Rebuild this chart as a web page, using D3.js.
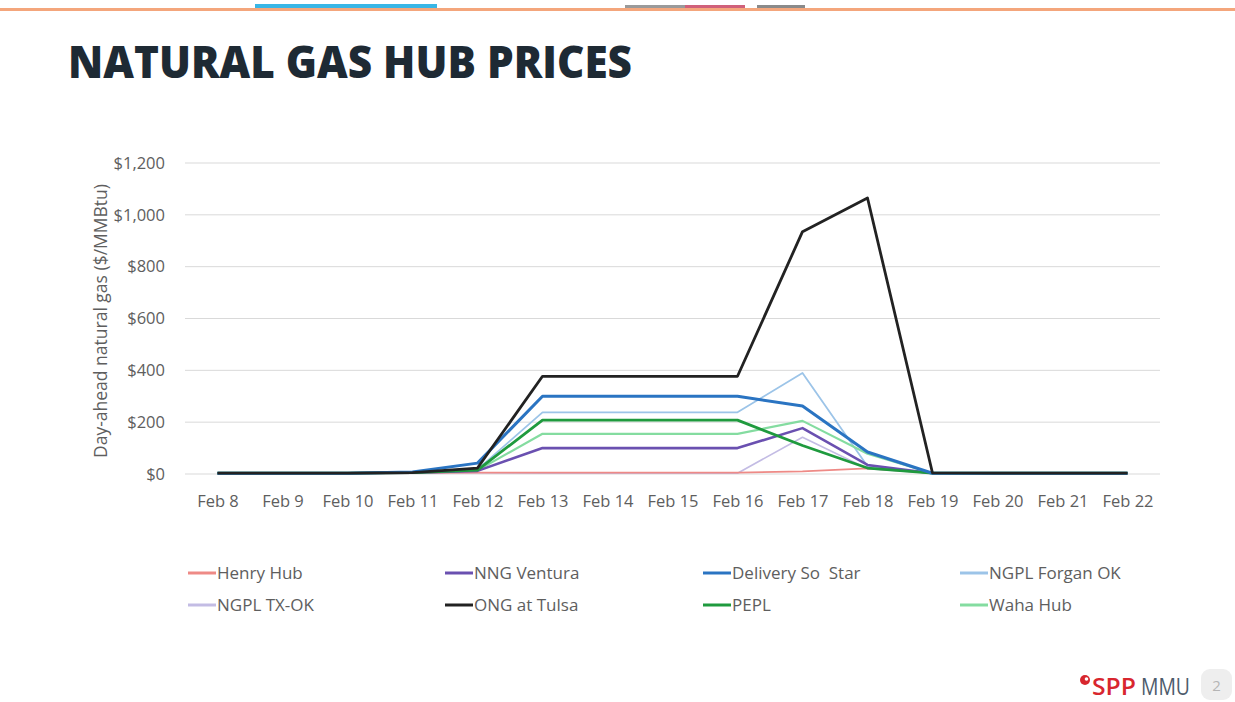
<!DOCTYPE html>
<html>
<head>
<meta charset="utf-8">
<script src="https://cdn.jsdelivr.net/npm/d3@7"></script>
<style>
  body { margin: 0; background: #fff; }
  text { font-family: "Open Sans", "Noto Sans", sans-serif; }
</style>
</head>
<body>
<div id="chart"></div>
<script>
// dates on the x axis
var days = ["Feb 8", "Feb 9", "Feb 10", "Feb 11", "Feb 12", "Feb 13", "Feb 14", "Feb 15",
            "Feb 16", "Feb 17", "Feb 18", "Feb 19", "Feb 20", "Feb 21", "Feb 22"];

// day-ahead prices, $/MMBtu
var henryHub       = [3, 3, 3, 4, 5, 5, 5, 5, 5, 10, 22, 4, 3, 3, 3];
var nngVentura     = [3, 3, 3, 5, 12, 100, 100, 100, 100, 177, 35, 3, 3, 3, 3];
var deliverySoStar = [3, 3, 3, 8, 42, 300, 300, 300, 300, 262, 85, 3, 3, 3, 3];
var ngplForgan     = [3, 3, 3, 5, 18, 238, 238, 238, 238, 390, 30, 3, 3, 3, 3];
var ngplTxOk       = [3, 3, 3, 4, 5, 3, 3, 3, 3, 142, 20, 3, 3, 3, 3];
var ongTulsa       = [3, 3, 3, 5, 23, 377, 377, 377, 377, 935, 1065, 4, 3, 3, 3];
var pepl           = [3, 3, 3, 5, 15, 208, 208, 208, 208, 110, 23, 3, 3, 3, 3];
var wahaHub        = [3, 3, 3, 5, 14, 155, 155, 155, 155, 205, 78, 3, 3, 3, 3];

var seriesNames = ["Henry Hub", "NNG Ventura", "Delivery So  Star", "NGPL Forgan OK",
                   "NGPL TX-OK", "ONG at Tulsa", "PEPL", "Waha Hub"];
var seriesValues = [henryHub, nngVentura, deliverySoStar, ngplForgan,
                    ngplTxOk, ongTulsa, pepl, wahaHub];
var seriesColors = ["#ee8a86", "#6a50b0", "#2a74c2", "#9cc4e8",
                    "#c3bce4", "#222222", "#1f9a3e", "#84dca0"];
var seriesWidths = [1.8, 2.6, 3, 1.8, 1.6, 2.8, 2.8, 2.2];

var yTicks = [0, 200, 400, 600, 800, 1000, 1200];

var width = 1235, height = 702;

var svg = d3.select("#chart").append("svg")
    .attr("width", width)
    .attr("height", height);

// slide decoration on top
svg.append("rect").attr("x", 0).attr("y", 8).attr("width", width).attr("height", 3).attr("fill", "#f4a67c");
svg.append("rect").attr("x", 255).attr("y", 4).attr("width", 182).attr("height", 4).attr("fill", "#38b6e6");
svg.append("rect").attr("x", 625).attr("y", 5).attr("width", 60).attr("height", 3).attr("fill", "#9a9a9a");
svg.append("rect").attr("x", 685).attr("y", 5).attr("width", 60).attr("height", 3).attr("fill", "#d0607a");
svg.append("rect").attr("x", 757).attr("y", 5).attr("width", 48).attr("height", 3).attr("fill", "#8a8a8a");

// title
svg.append("text")
    .attr("x", 68)
    .attr("y", 78)
    .attr("textLength", 564)
    .attr("lengthAdjust", "spacingAndGlyphs")
    .style("font-size", "45px")
    .style("font-weight", 800)
    .attr("fill", "#1e2a34")
    .text("NATURAL GAS HUB PRICES");

// scales
var x = d3.scalePoint()
    .domain(days)
    .range([185, 1160])
    .padding(0.5);

var y = d3.scaleLinear()
    .domain([0, 1200])
    .range([474, 163]);

// gridlines
svg.append("g")
    .selectAll("line")
    .data(yTicks)
    .enter()
    .append("line")
    .attr("x1", 185)
    .attr("x2", 1160)
    .attr("y1", d => y(d))
    .attr("y2", d => y(d))
    .attr("stroke", "#d9d9d9")
    .attr("stroke-width", 1);

// y axis labels
var yAxis = svg.append("g")
    .attr("transform", "translate(185,0)")
    .call(d3.axisLeft(y).tickValues(yTicks).tickSize(0).tickPadding(20)
        .tickFormat(d => "$" + d3.format(",")(d)));
yAxis.select(".domain").remove();
yAxis.selectAll("text")
    .style("font-size", "16.5px")
    .style("font-family", "'Open Sans', sans-serif")
    .attr("fill", "#5e5e5e");

// x axis labels
var xAxis = svg.append("g")
    .attr("transform", "translate(0,474)")
    .call(d3.axisBottom(x).tickSize(0).tickPadding(21));
xAxis.select(".domain").remove();
xAxis.selectAll("text")
    .style("font-size", "16.5px")
    .style("font-family", "'Open Sans', sans-serif")
    .attr("fill", "#5e5e5e");

// y axis title
svg.append("text")
    .attr("transform", "translate(107,321) rotate(-90)")
    .attr("text-anchor", "middle")
    .style("font-size", "17.5px")
    .attr("fill", "#5e5e5e")
    .text("Day-ahead natural gas ($/MMBtu)");

// lines
var line = d3.line()
    .x((d, i) => x(days[i]))
    .y(d => y(d));

var drawOrder = [4, 3, 0, 7, 1, 6, 2, 5];
svg.append("g")
    .selectAll("path")
    .data(drawOrder)
    .enter()
    .append("path")
    .attr("d", k => line(seriesValues[k]))
    .attr("fill", "none")
    .attr("stroke", k => seriesColors[k])
    .attr("stroke-width", k => seriesWidths[k])
    .attr("stroke-linejoin", "round");

// legend
var legendCols = [188, 445, 703, 960];
var legendRows = [573, 605];
var legend = svg.append("g")
    .selectAll("g")
    .data(seriesNames)
    .enter()
    .append("g")
    .attr("transform", (d, i) => `translate(${legendCols[i % 4]},${legendRows[Math.floor(i / 4)]})`);

legend.append("line")
    .attr("x1", 0)
    .attr("x2", 28)
    .attr("y1", 0)
    .attr("y2", 0)
    .attr("stroke", (d, i) => seriesColors[i])
    .attr("stroke-width", 3);

legend.append("text")
    .attr("x", 29)
    .attr("y", 6)
    .style("font-size", "17px")
    .attr("fill", "#5e5e5e")
    .attr("xml:space", "preserve")
    .style("white-space", "pre")
    .text(d => d);

// footer logo
svg.append("circle").attr("cx", 1085).attr("cy", 680).attr("r", 5).attr("fill", "#d8262e");
svg.append("circle").attr("cx", 1086.5).attr("cy", 679).attr("r", 1.8).attr("fill", "#fff");

function fitText(sel, targetWidth) {
    var w = sel.node().getComputedTextLength();
    var x0 = +sel.attr("x"), y0 = +sel.attr("y");
    sel.attr("x", 0).attr("y", 0)
        .attr("transform", `translate(${x0},${y0}) scale(${targetWidth / w},1)`);
}

var spp = svg.append("text")
    .attr("x", 1092)
    .attr("y", 695)
    .style("font-size", "24px")
    .style("font-weight", 600)
    .attr("fill", "#d8262e")
    .text("SPP");
fitText(spp, 44);

var mmu = svg.append("text")
    .attr("x", 1141)
    .attr("y", 695)
    .style("font-size", "24px")
    .attr("fill", "#4d5b6b")
    .text("MMU");
fitText(mmu, 49);

svg.append("rect")
    .attr("x", 1201).attr("y", 669).attr("width", 31).attr("height", 31).attr("rx", 9)
    .attr("fill", "#eeeeee");
svg.append("text")
    .attr("x", 1216.5).attr("y", 691)
    .attr("text-anchor", "middle")
    .style("font-size", "15px")
    .attr("fill", "#b5b5b5")
    .text("2");
</script>
</body>
</html>
